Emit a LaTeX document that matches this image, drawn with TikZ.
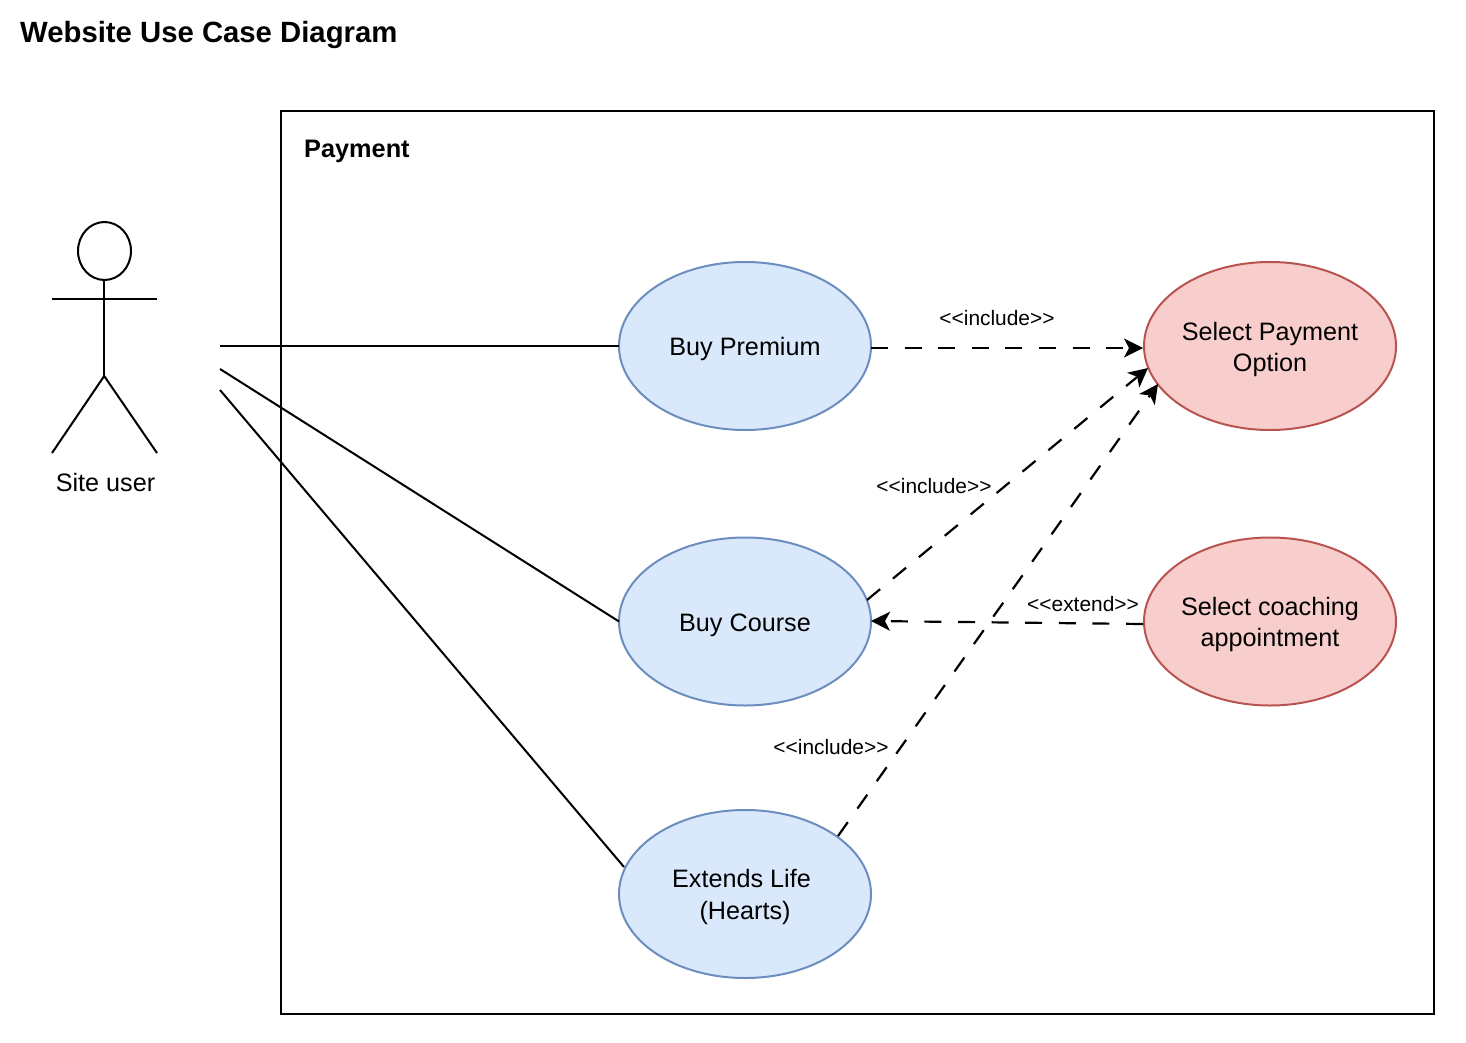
\documentclass[tikz,border=0pt]{standalone}
\usepackage{fontspec}
\setmainfont{Liberation Sans}
\usetikzlibrary{arrows.meta,shapes.geometric}
\definecolor{blueedge}{HTML}{6C8EBF}
\definecolor{bluefill}{HTML}{DAE8FC}
\definecolor{rededge}{HTML}{B85450}
\definecolor{redfill}{HTML}{F8CECC}
\newcommand{\ucstrut}{\rule{0pt}{25pt}}
\tikzset{
  x=1pt,y=-1pt,
  usecase/.style={draw,ellipse,line width=2pt,outer sep=0pt,minimum width=252pt,minimum height=168pt,inner sep=0pt,align=center,font=\fontsize{25.2}{31}\selectfont,text=black},
  blueuc/.style={usecase,draw=blueedge,fill=bluefill},
  reduc/.style={usecase,draw=rededge,fill=redfill},
  stick/.style={draw=black,line width=2pt},
  assoc/.style={draw=black,line width=2pt},
  dep/.style={draw=black,line width=2.2pt,dash pattern=on 17pt off 16.6pt,-{Stealth[length=19pt,width=19pt,inset=5pt]}},
  deplabel/.style={inner sep=0pt,font=\fontsize{20.9}{25}\selectfont,text=black},
}
\begin{document}
\begin{tikzpicture}
\useasboundingbox (0,0) rectangle (1466,1043);
\node[inner sep=0pt,anchor=west,font=\bfseries\fontsize{29.3}{35}\selectfont] (title) at (20,34.5) {Website Use Case Diagram};
\node[draw=black,line width=2pt,outer sep=0pt,minimum width=1153pt,minimum height=903pt,inner sep=0pt,anchor=north west] (sys) at (280.5,111) {};
\node[inner sep=0pt,anchor=west,font=\bfseries\fontsize{25.3}{30}\selectfont] (syslabel) at (304,151) {Payment};
% actor
\node[draw=black,ellipse,line width=2pt,outer sep=0pt,minimum width=53pt,minimum height=58pt,inner sep=0pt] (head) at (104.5,251) {};
\coordinate (hipc) at (104.2,376);
\coordinate (neck) at (104.2,280);
\coordinate (armL) at (52,299);
\coordinate (armR) at (157,299);
\coordinate (footL) at (52,453);
\coordinate (footR) at (157,453);
\draw[stick] (neck) -- (hipc);
\draw[stick] (armL) -- (armR);
\draw[stick] (footL) -- (hipc) -- (footR);
\node[inner sep=0pt,font=\fontsize{25.2}{30}\selectfont] (actor) at (105.5,482.5) {Site user};
% use cases
\node[blueuc] (prem) at (745,346) {\ucstrut Buy Premium};
\node[blueuc] (course) at (745,621.5) {\ucstrut Buy Course};
\node[blueuc] (life) at (745,894) {\ucstrut Extends Life\hbox{\kern7pt}\\[1pt](Hearts)};
\node[reduc] (pay) at (1270,346) {\ucstrut Select Payment\\Option};
\node[reduc] (coach) at (1270,621.5) {\ucstrut Select coaching\\appointment};
% association ends
\coordinate (a1) at (220,346);
\coordinate (a2) at (220,369);
\coordinate (a3) at (220,390);
\coordinate (lifeW) at (624,867);
\draw[assoc] (a1) -- (prem.west);
\draw[assoc] (a2) -- (course.west);
\draw[assoc] (a3) -- (lifeW);
% dependencies
\coordinate (d1s) at (871,348);
\coordinate (d1e) at (1143,348);
\coordinate (d2s) at (867,600);
\coordinate (d2e) at (1148,368);
\coordinate (d3s) at (838,836);
\coordinate (d3e) at (1158,384);
\coordinate (d4s) at (1143,624);
\coordinate (d4e) at (871,621);
\draw[dep] (d1s) -- (d1e);
\draw[dep] (d2s) -- (d2e);
\draw[dep] (d3s) -- (d3e);
\draw[dep] (d4s) -- (d4e);
\node[deplabel] (l1) at (997,318) {<{}<include>{}>};
\node[deplabel] (l2) at (934,486) {<{}<include>{}>};
\node[deplabel] (l3) at (831,747) {<{}<include>{}>};
\node[deplabel] (l4) at (1083,604) {<{}<extend>{}>};
\end{tikzpicture}
\end{document}
